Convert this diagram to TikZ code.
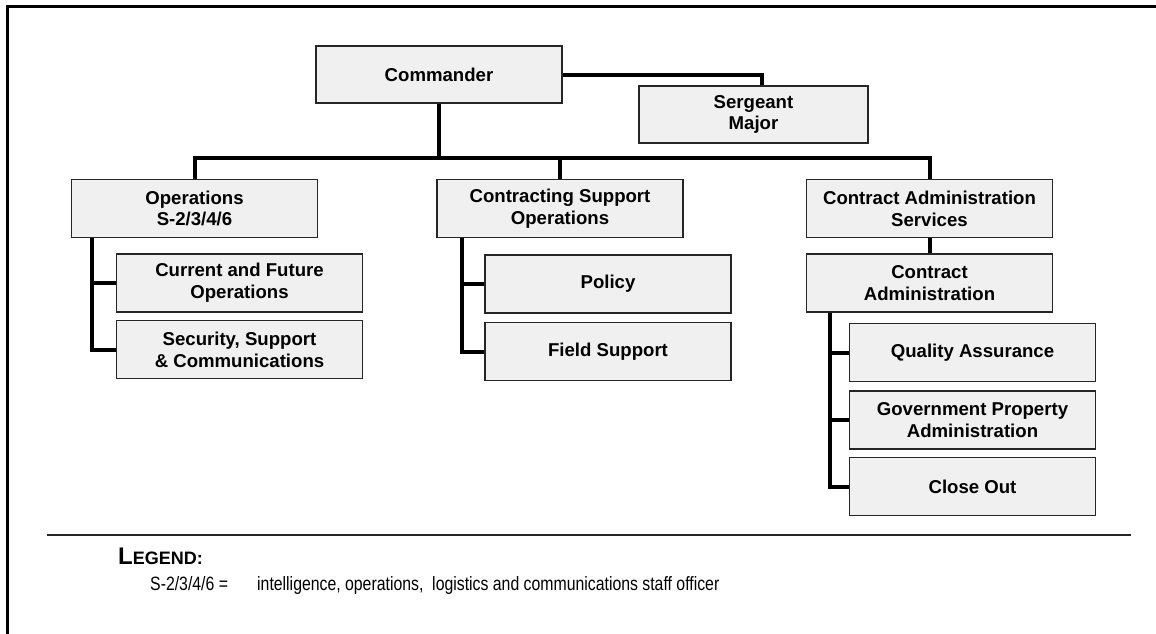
\documentclass[tikz,border=0pt]{standalone}
\usepackage{fontspec}
\usepackage{tikz}
\usetikzlibrary{positioning}

\newfontfamily\boxfont{Liberation Sans}
\newfontfamily\narrowfont[FakeStretch=0.82]{Liberation Sans}

\begin{document}
\begin{tikzpicture}[
    x=1pt, y=-1pt,
    unit/.style={
        draw=black!85, fill=black!6,
        rectangle, line width=1.5pt,
        minimum height=58pt, minimum width=246pt,
        inner sep=0pt, align=center,
        font=\boxfont\bfseries\fontsize{18.6}{21.7}\selectfont
    },
    link/.style={line width=4pt},
    frame/.style={line width=3pt},
    rule/.style={line width=2.5pt, draw=black!85},
    legendtext/.style={inner sep=0pt, anchor=base west,
        font=\narrowfont\fontsize{19.3}{22}\selectfont},
]
\useasboundingbox (0,0) rectangle (1156,634);

% page frame (left and top edges only)
\draw[frame] (7.5,634) |- (1156,6.5);

% Top: commander and sergeant major
\node[unit, minimum height=57pt] (cmd) at (439,74.5) {Commander};
\node[unit, minimum width=229pt, minimum height=57pt] (sgm) at (753.5,114.5) {%
    Sergeant\\
    Major
};

% Second row: staff sections
\node[unit] (ops) at (194.5,208.5) {%
    Operations\\
    S-2/3/4/6
};
\node[unit, right=118pt of ops] (cso) {%
    Contracting Support\\
    Operations
};
\node[unit, right=122pt of cso] (cas) {%
    Contract Administration\\
    Services
};

% Operations detail
\node[unit, below=15pt of ops, xshift=45pt] (cfo) {%
    Current and Future\\
    Operations
};
\node[unit, below=7pt of cfo] (ssc) {%
    Security, Support\\
    \& Communications
};

% Contracting support detail
\node[unit, below=16pt of cso, xshift=48pt] (pol) {Policy};
\node[unit, below=8pt of pol] (fsp) {Field Support};

% Contract administration detail
\node[unit, below=15pt of cas] (cad) {%
    Contract\\
    Administration
};
\node[unit, below=10pt of cad, xshift=43pt] (qa) {Quality Assurance};
\node[unit, below=8pt of qa] (gpa) {%
    Government Property\\
    Administration
};
\node[unit, below=7pt of gpa] (clo) {Close Out};

% bus and branch points
\coordinate (bus) at ([yshift=-54pt]cmd.south);
\coordinate (opsv) at ([xshift=21pt]ops.south west);
\coordinate (csov) at ([xshift=26pt]cso.south west);
\coordinate (cadv) at ([xshift=24pt]cad.south west);

% Top-level links
\draw[link] (cmd.east) -| ([xshift=8.5pt]sgm.north);
\draw[link] (cmd.south) -- (bus);
\draw[link] (ops.north) |- (bus) -| (cas.north);
\draw[link] (bus -| cso.north) -- (cso.north);
\draw[link] (cas) -- (cad);

% Branch links
\draw[link] (opsv) |- (ssc.west);
\draw[link] (opsv |- cfo.west) -- (cfo.west);
\draw[link] (csov) |- (fsp.west);
\draw[link] (csov |- pol.west) -- (pol.west);
\draw[link] (cadv) |- (clo.west);
\draw[link] (cadv |- qa.west) -- (qa.west);
\draw[link] (cadv |- gpa.west) -- (gpa.west);

% Legend
\coordinate (ruleL) at (47,535);
\coordinate (ruleR) at (1131,535);
\draw[rule] (ruleL) -- (ruleR);
\node[inner sep=0pt, anchor=base west,
      font=\boxfont\bfseries] (legend) at (118,564)
    {\fontsize{24}{24}\selectfont L\fontsize{18}{18}\selectfont EGEND:};
\node[legendtext] (abbr) at (150,590) {S-2/3/4/6 =};
\node[legendtext] (abbrdef) at (257,590)
    {intelligence, operations, \ logistics and communications staff officer};

\end{tikzpicture}
\end{document}
